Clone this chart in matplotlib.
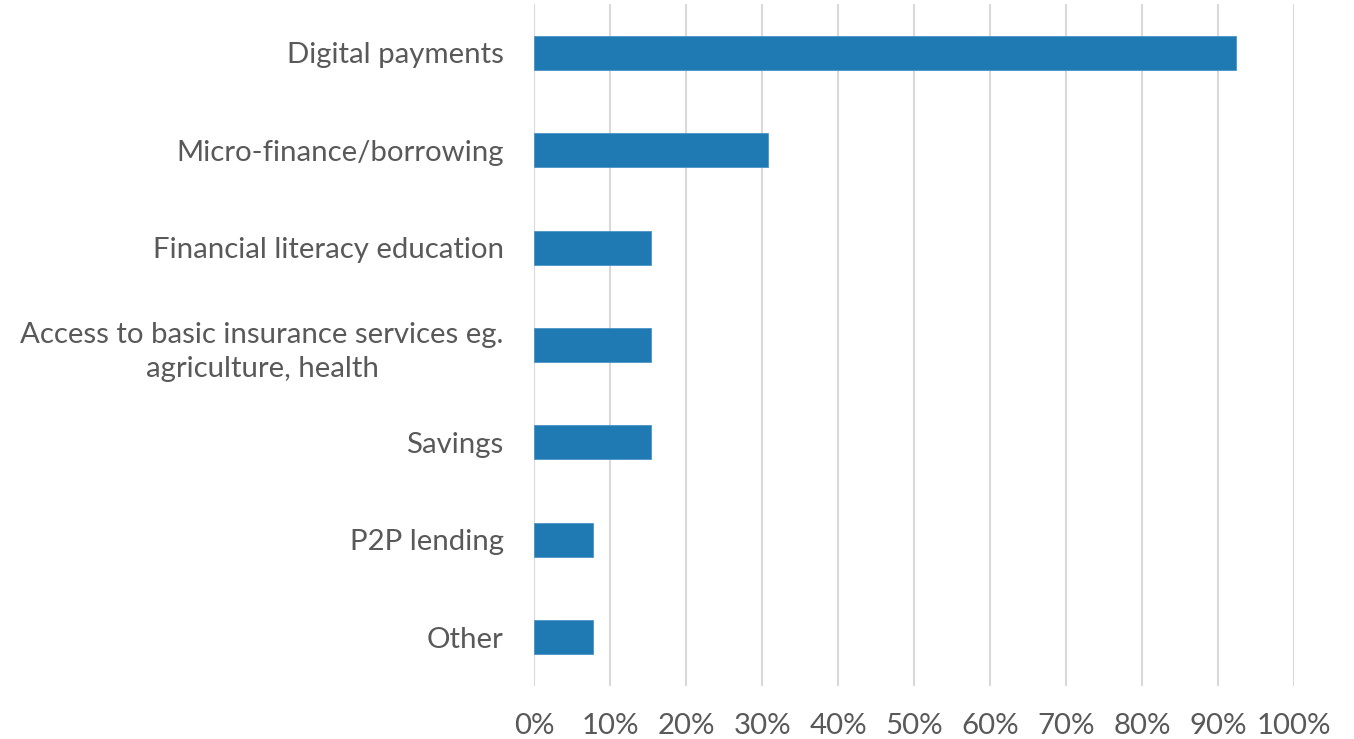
import matplotlib
matplotlib.use("Agg")
import matplotlib.pyplot as plt
from matplotlib.ticker import FuncFormatter

categories = [
    "Digital payments",
    "Micro-finance/borrowing",
    "Financial literacy education",
    "Access to basic insurance services eg.\nagriculture, health",
    "Savings",
    "P2P lending",
    "Other",
]
shares = [92.3, 30.8, 15.4, 15.4, 15.4, 7.7, 7.7]
x_ticks = [0, 10, 20, 30, 40, 50, 60, 70, 80, 90, 100]

text_color = "#595959"
bar_color = "#1f7ab4"
grid_color = "#d9d9d9"

plt.rcParams["font.family"] = ["Lato", "DejaVu Sans"]

fig = plt.figure(figsize=(13.54, 7.39), dpi=100)
ax = fig.add_axes([0.3946, 0.0721, 0.5612, 0.9221])

y = list(range(len(categories)))
ax.barh(y, shares, height=0.35, color=bar_color, edgecolor="#4a94c6", linewidth=0.6, zorder=3)

ax.set_ylim(len(categories) - 0.5, -0.5)
ax.set_xlim(0, 100)
ax.set_xticks(x_ticks)
ax.xaxis.set_major_formatter(FuncFormatter(lambda v, p: f"{v:.0f}%"))
ax.set_yticks(y)
ax.set_yticklabels(categories, ha="right", multialignment="center", linespacing=1.4)

ax.grid(axis="x", color=grid_color, linewidth=1.5, zorder=0)
for s in ax.spines.values():
    s.set_visible(False)
ax.tick_params(axis="both", length=0, labelsize=21.2, colors=text_color)
ax.tick_params(axis="x", pad=20)
ax.tick_params(axis="y", pad=22)

fig.savefig("out.png", dpi=100, facecolor="white")
